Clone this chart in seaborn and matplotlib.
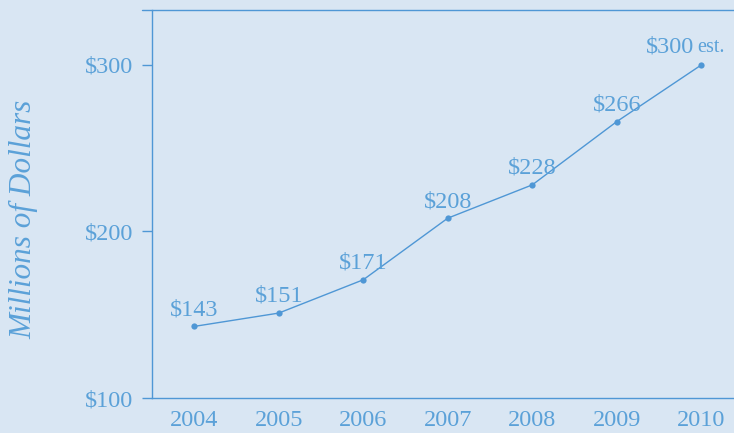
import numpy as np
import pandas as pd
import seaborn as sns
from matplotlib import pyplot as plt

years = [2004, 2005, 2006, 2007, 2008, 2009, 2010]
values = [143, 151, 171, 208, 228, 266, 300]
labels = ['$143', '$151', '$171', '$208', '$228', '$266', '$300']
y_ticks = [100, 200, 300]
y_tick_labels = ['$100', '$200', '$300']

bg = '#d9e6f3'
txt = '#5ba1d8'
line_c = '#4f97d5'
fs = 17.5

sns.set_style('white')
plt.rcParams['font.family'] = ['Liberation Serif', 'DejaVu Serif']

fig = plt.figure(figsize=(7.34, 4.33), dpi=100, facecolor=bg)
ax = fig.add_axes([152 / 734, 1 - 398 / 433, 582 / 734, 388 / 433])
ax.set_facecolor(bg)

df = pd.DataFrame({'year': years, 'value': values})
sns.lineplot(data=df, x='year', y='value', ax=ax, color=line_c, linewidth=1,
             marker='o', markersize=4.5, markeredgewidth=0)

# data labels
for i, (x, y, lab) in enumerate(zip(years, values, labels)):
    if i == len(years) - 1:
        ax.annotate(lab, (x, y), xytext=(-5, 13), textcoords='offset points',
                    ha='right', va='center', color=txt, fontsize=fs)
        ax.annotate('est.', (x, y), xytext=(-3, 12.5), textcoords='offset points',
                    ha='left', va='center', color=txt, fontsize=14.5)
    else:
        ax.annotate(lab, (x, y), xytext=(0, 12), textcoords='offset points',
                    ha='center', va='center', color=txt, fontsize=fs)

ax.set_xlim(years[0] - 0.5, years[0] - 0.5 + 582 / 84.5)
ax.set_ylim(100, 100 + 388 / 1.665)

ax.set_xticks(years)
ax.set_xticklabels([str(y) for y in years])
ax.set_xticks([y - 0.5 for y in years[1:]], minor=True)
ax.tick_params(axis='x', which='major', length=0, pad=9, labelsize=fs, labelcolor=txt)
ax.tick_params(axis='x', which='minor', length=7.2, width=1, color=line_c, direction='out')

ax.set_yticks(y_ticks)
ax.set_yticklabels(y_tick_labels)
ax.tick_params(axis='y', length=7.2, width=1, color=line_c, pad=6, labelsize=fs,
               labelcolor=txt, direction='out', left=True)

ax.set_xlabel('')
ax.set_ylabel('Millions of Dollars', fontsize=22.5, style='italic', color=txt)
ax.yaxis.set_label_coords(-0.195, 0.46)

for s in ['top', 'right']:
    ax.spines[s].set_visible(False)
for s in ['left', 'bottom']:
    ax.spines[s].set_color(line_c)
    ax.spines[s].set_linewidth(1)

# top rule extending left of the axis
ax.plot([-10 / 582, 1], [1, 1], transform=ax.transAxes, color=line_c, linewidth=1, clip_on=False)

fig.savefig('out.png', dpi=100, facecolor=bg)
